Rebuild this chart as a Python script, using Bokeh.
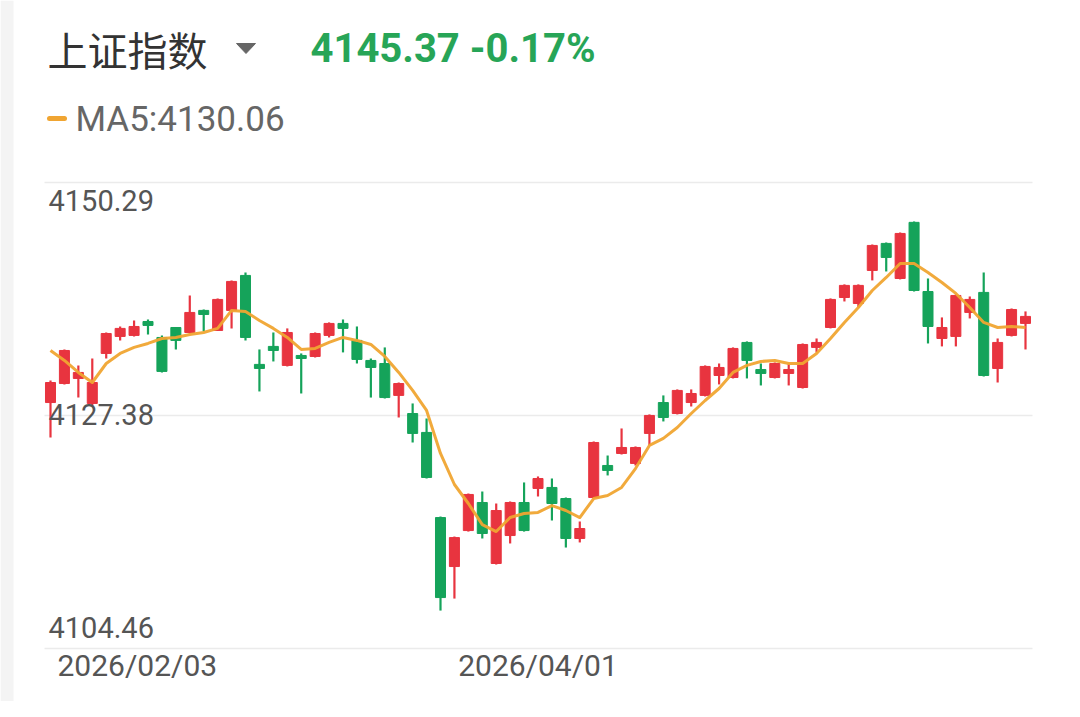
from bokeh.plotting import figure
from bokeh.models import Range1d
from bokeh.core.properties import value
from bokeh.embed import file_html
from bokeh.resources import INLINE

# ---------------- data ----------------
title_name = "上证指数"
title_quote = "4145.37 -0.17%"
ma_label = "MA5:4130.06"

opens = [4128.65, 4130.52, 4131.02, 4128.56, 4133.48, 4135.15, 4135.25, 4136.62, 4135.05, 4136.03,
         4135.54, 4137.71, 4135.74, 4137.71, 4141.15, 4132.40, 4134.17, 4132.30, 4133.28, 4133.18,
         4135.25, 4136.43, 4134.76, 4132.79, 4132.49, 4129.35, 4127.57, 4125.71, 4117.34, 4112.52,
         4116.06, 4118.82, 4112.82, 4115.57, 4118.82, 4120.20, 4120.30, 4119.21, 4115.28, 4119.31,
         4122.46, 4123.64, 4122.66, 4125.61, 4128.65, 4127.57, 4128.65, 4129.35, 4131.31, 4131.11,
         4134.56, 4131.90, 4131.11, 4131.51, 4130.13, 4134.07, 4136.03, 4138.98, 4138.39, 4141.64,
         4144.30, 4140.85, 4146.37, 4139.57, 4134.95, 4135.15, 4137.51, 4139.48, 4132.00, 4135.25,
         4136.43]
highs = [4130.82, 4133.87, 4132.30, 4132.98, 4135.54, 4136.13, 4136.72, 4136.82, 4135.25, 4136.03,
         4139.18, 4137.80, 4138.89, 4140.66, 4141.44, 4133.87, 4135.54, 4135.94, 4133.48, 4135.54,
         4136.53, 4136.82, 4136.13, 4132.98, 4134.07, 4130.62, 4128.56, 4127.08, 4117.44, 4115.47,
         4119.70, 4119.90, 4118.72, 4118.92, 4120.79, 4121.38, 4121.18, 4119.31, 4116.95, 4124.82,
         4123.44, 4126.10, 4124.33, 4127.48, 4129.35, 4129.94, 4129.94, 4132.30, 4132.49, 4134.07,
         4134.66, 4132.49, 4132.59, 4132.49, 4134.46, 4134.95, 4138.89, 4140.27, 4140.27, 4144.20,
         4144.39, 4145.38, 4146.46, 4140.85, 4137.02, 4139.28, 4139.08, 4141.44, 4134.95, 4137.90,
         4137.61]
lows = [4125.21, 4130.43, 4129.14, 4128.36, 4132.98, 4134.76, 4135.15, 4135.35, 4131.61, 4133.87,
        4135.44, 4135.64, 4135.74, 4135.94, 4134.76, 4129.74, 4132.69, 4132.20, 4129.54, 4133.08,
        4135.05, 4133.58, 4132.49, 4129.14, 4129.05, 4127.18, 4124.72, 4121.18, 4108.19, 4109.37,
        4115.96, 4115.28, 4112.72, 4114.79, 4115.96, 4119.41, 4117.05, 4114.39, 4114.89, 4119.21,
        4121.48, 4123.54, 4122.46, 4124.43, 4126.79, 4127.48, 4128.26, 4129.25, 4130.43, 4131.02,
        4131.02, 4130.33, 4131.02, 4130.33, 4130.03, 4133.58, 4135.94, 4138.59, 4138.00, 4140.66,
        4141.54, 4140.76, 4139.57, 4134.46, 4134.17, 4134.17, 4136.92, 4131.21, 4130.62, 4135.15,
        4133.87]
closes = [4130.62, 4133.77, 4131.61, 4130.62, 4135.44, 4135.94, 4136.13, 4136.23, 4131.71, 4134.76,
          4137.51, 4137.31, 4138.79, 4140.56, 4135.05, 4132.00, 4133.77, 4135.54, 4132.98, 4135.44,
          4136.43, 4135.94, 4132.89, 4132.10, 4129.14, 4130.52, 4125.61, 4121.28, 4109.47, 4115.37,
          4119.61, 4115.77, 4118.03, 4118.82, 4116.06, 4121.18, 4118.72, 4115.28, 4116.26, 4124.72,
          4121.97, 4124.23, 4124.23, 4127.38, 4127.18, 4129.84, 4129.54, 4132.20, 4132.10, 4133.97,
          4132.79, 4131.51, 4132.49, 4131.90, 4134.36, 4134.56, 4138.79, 4140.17, 4140.17, 4144.10,
          4142.92, 4145.28, 4139.67, 4136.13, 4136.03, 4139.18, 4138.79, 4131.31, 4134.56, 4137.80,
          4137.12]
ma5 = [4133.77, 4132.79, 4131.61, 4130.62, 4132.49, 4133.48, 4134.07, 4134.46, 4134.95, 4135.05,
       4135.35, 4135.54, 4135.94, 4137.71, 4137.61, 4136.72, 4135.94, 4135.05, 4133.87, 4133.97,
       4134.56, 4135.05, 4134.76, 4134.36, 4133.18, 4131.61, 4129.84, 4127.87, 4123.64, 4120.59,
       4118.72, 4116.65, 4115.96, 4117.34, 4117.74, 4117.84, 4118.52, 4118.03, 4117.34, 4119.21,
       4119.51, 4120.30, 4122.16, 4124.43, 4125.12, 4126.20, 4127.57, 4128.85, 4130.03, 4131.61,
       4132.30, 4132.69, 4132.79, 4132.49, 4132.49, 4133.48, 4134.95, 4136.53, 4138.00, 4139.67,
       4140.95, 4142.33, 4142.33, 4141.44, 4140.46, 4139.38, 4138.00, 4136.53, 4136.03, 4136.13,
       4136.03]
y_ticks = [4104.46, 4127.38, 4150.29]
x_tick_index = [0, 35]
x_tick_labels = ["2026/02/03", "2026/04/01"]

# ---------------- layout helpers (reference pixel -> data) ----------------
W, H = 1064, 701
N = len(closes)
STEP = (1025 - 50) / (N - 1)
YMIN, YMAX = y_ticks[0], y_ticks[-1]
PPU = (YMAX - YMIN) / (648 - 182)


def xd(px):
    return (px - 50) / STEP


def yd(py):
    return YMIN + (648 - py) * PPU


RED = "#e8343f"
GREEN = "#15a35a"
ORANGE = "#f0a532"

p = figure(width=W, height=H, x_range=Range1d(xd(0), xd(W)), y_range=Range1d(yd(H), yd(0)),
           x_axis_location=None, y_axis_location=None, min_border=0, toolbar_location=None,
           output_backend="svg", title=None)
p.outline_line_color = None
p.background_fill_color = "white"
p.border_fill_color = "white"
p.xgrid.visible = False
p.ygrid.visible = False

# light page edge on the left
p.quad(left=[xd(0)], right=[xd(13)], bottom=[yd(H)], top=[yd(0)], fill_color="#f4f4f4", line_color=None)

# grid lines at the y ticks
p.segment(x0=xd(44), x1=xd(1032), y0=y_ticks, y1=y_ticks, line_color="#ebebeb", line_width=1.6)

idx = list(range(N))
colors = [RED if c >= o else GREEN for o, c in zip(opens, closes)]
tops = [max(o, c) for o, c in zip(opens, closes)]
bots = [min(o, c) for o, c in zip(opens, closes)]

p.segment(x0=idx, x1=idx, y0=lows, y1=highs, line_color=colors, line_width=2.2)
p.vbar(x=idx, width=0.72, top=tops, bottom=bots, fill_color=colors, line_color=colors, line_width=1)

p.line(idx, ma5, line_color=ORANGE, line_width=3, line_join="round", line_alpha=0.95)

# header
p.text(x=[xd(47)], y=[yd(48)], text=[title_name], text_font=value("Noto Sans CJK SC"),
       text_font_size="40px", text_color="#333333", text_align="left", text_baseline="middle")
p.patch(x=[xd(236), xd(255), xd(245.5)], y=[yd(43), yd(43), yd(53)], fill_color="#666666",
        line_color="#666666")
p.text(x=[xd(310)], y=[yd(48)], text=[title_quote], text_font=value("Roboto"), text_font_style="bold",
       text_font_size="40px", text_color="#27a557", text_align="left", text_baseline="middle")

p.segment(x0=[xd(49)], x1=[xd(64)], y0=[yd(118)], y1=[yd(118)], line_color=ORANGE, line_width=5,
          line_cap="round")
p.text(x=[xd(75)], y=[yd(119)], text=[ma_label], text_font=value("Roboto"),
       text_font_size="35px", text_color="#666666", text_align="left", text_baseline="middle")

# y tick labels
p.text(x=[xd(48)] * 3, y=[yd(627), yd(414), yd(200)], text=[f"{v:.2f}" for v in y_ticks],
       text_font=value("Roboto"), text_font_size="29px", text_color="#555555",
       text_align="left", text_baseline="middle")

# x tick labels
p.text(x=[xd(57)], y=[yd(665)], text=[x_tick_labels[0]], text_font=value("Roboto"),
       text_font_size="30px", text_color="#555555", text_align="left", text_baseline="middle")
p.text(x=x_tick_index[1:], y=[yd(665)] * (len(x_tick_index) - 1), text=x_tick_labels[1:],
       text_font=value("Roboto"), text_font_size="30px", text_color="#555555",
       text_align="center", text_baseline="middle")

open("out.html", "w").write(file_html(p, INLINE))
